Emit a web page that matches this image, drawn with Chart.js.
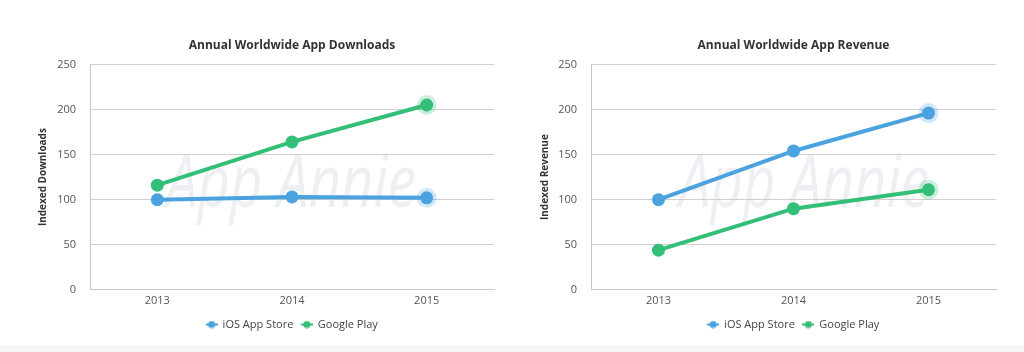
<!DOCTYPE html>
<html lang="en">
<head>
<meta charset="UTF-8">
<title>Annual Worldwide App Downloads and Revenue</title>
<script src="https://cdn.jsdelivr.net/npm/chart.js"></script>
<style>
  body { margin: 0; background: #fff; width: 1024px; height: 352px; overflow: hidden; position: relative; font-family: "Open Sans", sans-serif; }
  .panel { position: absolute; top: 0; width: 512px; height: 345px; }
  .panel canvas { position: absolute; left: 0; top: 0; z-index: 2; }
  .mark { position: absolute; z-index: 1; font-family: "Open Sans", sans-serif; font-style: italic; font-weight: 400; font-size: 74px; line-height: 1; color: #eeeff2; white-space: nowrap; transform: scaleX(0.76); transform-origin: 0 0; }
  .strip { position: absolute; left: 0; right: 0; top: 345px; height: 7px; background: #f6f7f8; }
</style>
</head>
<body>
<div class="panel" style="left:0">
  <div class="mark" style="left:166px; top:142px">App Annie</div>
  <canvas id="downloads" width="512" height="345"></canvas>
</div>
<div class="panel" style="left:512px">
  <div class="mark" style="left:167px; top:142px">App Annie</div>
  <canvas id="revenue" width="512" height="345"></canvas>
</div>
<div class="strip"></div>
<script>
const years = ['2013', '2014', '2015'];
const downloadsIos = [100, 103, 102];
const downloadsPlay = [116, 164, 205];
const revenueIos = [100, 154, 196];
const revenuePlay = [44, 90, 111];
const seriesNames = ['iOS App Store', 'Google Play'];

const BLUE = '#4aa3df';
const GREEN = '#34bf78';
const FONT = '"Open Sans", sans-serif';

function halo(hex, a) {
  const n = parseInt(hex.slice(1), 16);
  return `rgba(${n >> 16},${(n >> 8) & 255},${n & 255},${a})`;
}

// little line-with-dot marker for the legend
function legendMarker(color) {
  const c = document.createElement('canvas');
  c.width = 12; c.height = 8;
  const g = c.getContext('2d');
  g.strokeStyle = color; g.lineWidth = 2;
  g.beginPath(); g.moveTo(0, 4); g.lineTo(12, 4); g.stroke();
  g.fillStyle = color;
  g.beginPath(); g.arc(6, 4, 3.6, 0, Math.PI * 2); g.fill();
  return c;
}

function series(label, data, color) {
  const last = data.length - 1;
  return {
    label: label,
    data: data,
    borderColor: color,
    backgroundColor: color,
    borderWidth: 4,
    pointRadius: 6.5,
    pointBackgroundColor: color,
    pointBorderColor: ctx => ctx.dataIndex === last ? halo(color, 0.25) : color,
    pointBorderWidth: ctx => ctx.dataIndex === last ? 7 : 0,
    tension: 0
  };
}

function makeChart(id, title, yTitle, ios, play, pad) {
  new Chart(document.getElementById(id), {
    type: 'line',
    data: {
      labels: years,
      datasets: [series(seriesNames[0], ios, BLUE), series(seriesNames[1], play, GREEN)]
    },
    options: {
      responsive: false,
      animation: false,
      events: [],
      layout: { padding: { left: pad.left, right: pad.right, top: 38, bottom: 5 } },
      scales: {
        x: {
          offset: true,
          grid: { display: false, drawTicks: false },
          border: { display: true, color: '#c8c8c8' },
          ticks: { padding: 4, color: '#555', font: { family: FONT, size: 11 } }
        },
        y: {
          min: 0, max: 250,
          ticks: { stepSize: 50, padding: 14, color: '#555', font: { family: FONT, size: 11 } },
          grid: { color: '#cfcfcf', drawTicks: false },
          border: { display: true, color: '#c8c8c8' },
          title: { display: true, text: yTitle, color: '#333', padding: { top: 7, bottom: 0 },
                   font: { family: FONT, size: 10, weight: 'bold' } },
          afterFit: s => { s.width = pad.axis; }
        }
      },
      plugins: {
        tooltip: { enabled: false },
        title: { display: true, fullSize: false, text: title, color: '#333', padding: { top: 0, bottom: 12 },
                 font: { family: FONT, size: 12, weight: 'bold' } },
        legend: {
          position: 'bottom',
          fullSize: false,
          labels: {
            usePointStyle: true,
            color: '#444',
            padding: 8,
            font: { family: FONT, size: 11 },
            generateLabels: chart => chart.data.datasets.map((d, i) => ({
              text: d.label,
              pointStyle: legendMarker(d.borderColor),
              fillStyle: d.borderColor,
              strokeStyle: d.borderColor,
              lineWidth: 0,
              fontColor: '#444',
              datasetIndex: i
            }))
          }
        }
      }
    }
  });
}

makeChart('downloads', 'Annual Worldwide App Downloads', 'Indexed Downloads', downloadsIos, downloadsPlay,
  { left: 30, right: 18, axis: 60 });
makeChart('revenue', 'Annual Worldwide App Revenue', 'Indexed Revenue', revenueIos, revenuePlay,
  { left: 20, right: 28, axis: 59 });
</script>
</body>
</html>
